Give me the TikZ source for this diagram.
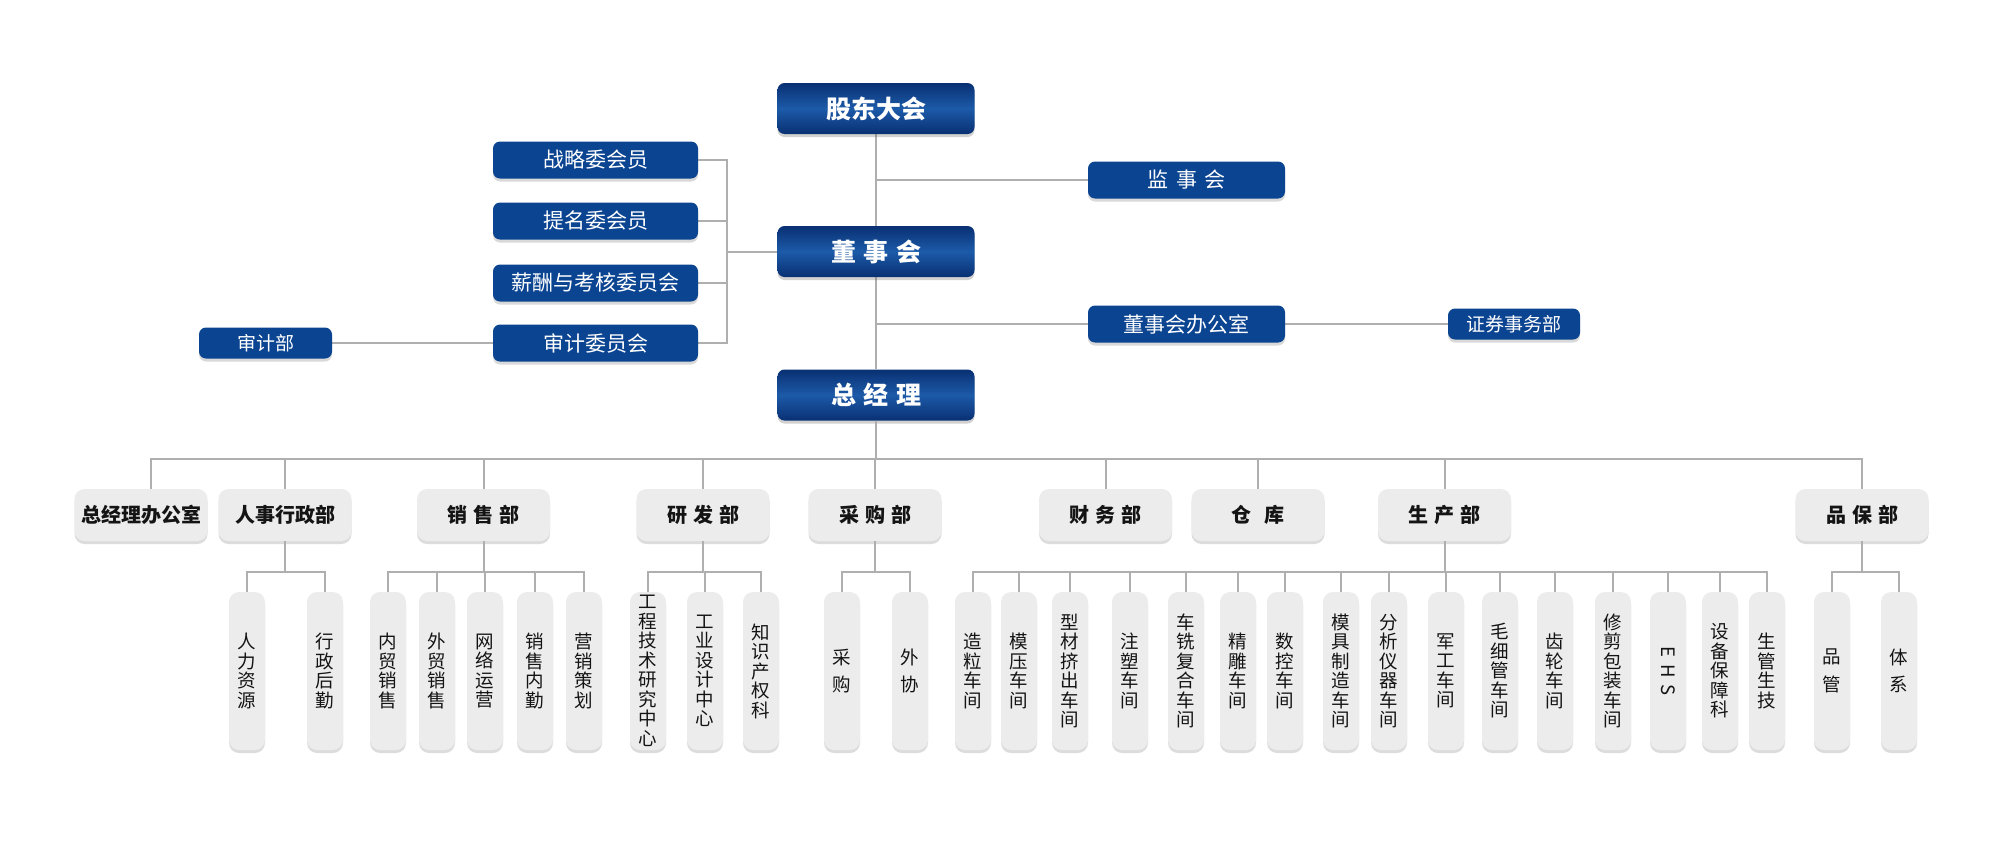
\documentclass[tikz,border=0pt]{standalone}
\usepackage{fontspec}
\newfontfamily\cjk{Noto Sans CJK SC}
\usepackage{tikz}
\usetikzlibrary{shadows, backgrounds, calc}
\usepackage{xcolor}
\definecolor{navyblue}{RGB}{11, 68, 145}
\definecolor{navydark}{RGB}{9, 48, 115}
\definecolor{navylight}{RGB}{28, 90, 168}
\definecolor{boxgray}{RGB}{236, 236, 236}
\definecolor{linegray}{RGB}{175, 175, 175}
\definecolor{inkblack}{RGB}{20, 20, 20}
\newcommand{\gapsp}{\hspace{0.3em}}
\tikzset{
    top box/.style={
        rectangle,
        rounded corners=7pt,
        minimum width=197pt,
        minimum height=51pt,
        top color=navydark,
        bottom color=navydark,
        middle color=navylight,
        text=white,
        font=\cjk\bfseries\fontsize{25}{25}\selectfont,
        drop shadow={shadow xshift=0pt, shadow yshift=-3pt, opacity=0.3, fill=black!60}
    },
    committee/.style={
        rectangle,
        rounded corners=7pt,
        fill=navyblue,
        text=white,
        minimum width=205pt,
        minimum height=37pt,
        inner sep=0pt,
        font=\cjk\fontsize{21}{21}\selectfont,
        drop shadow={shadow xshift=0pt, shadow yshift=-3pt, opacity=0.25, fill=black!60}
    },
    small box/.style={
        committee,
        minimum width=133pt,
        minimum height=31pt,
        font=\cjk\fontsize{19}{19}\selectfont
    },
    dept/.style={
        rectangle,
        rounded corners=10pt,
        fill=boxgray,
        text=inkblack,
        minimum width=133pt,
        minimum height=52pt,
        inner sep=0pt,
        font=\cjk\bfseries\fontsize{20}{20}\selectfont,
        drop shadow={shadow xshift=0pt, shadow yshift=-3pt, opacity=0.3, fill=black!45}
    },
    leaf/.style={
        rectangle,
        rounded corners=10pt,
        fill=boxgray,
        text=inkblack,
        minimum width=36pt,
        minimum height=158pt,
        inner sep=0pt,
        align=center,
        font=\cjk\fontsize{18.5}{19.5}\selectfont,
        drop shadow={shadow xshift=0pt, shadow yshift=-3pt, opacity=0.3, fill=black!45}
    }
}

\begin{document}
\begin{tikzpicture}[
    x=1pt, y=-1pt,
    link/.style={draw=linegray, line width=2pt}
]
\useasboundingbox (0,0) rectangle (2000,849);

% === GOVERNANCE ===
\node[top box] (shareholders) at (876,108.5) {股东大会};
\node[top box] (board) at (876,251.5) {董\gapsp 事\gapsp 会};
\node[top box] (gm) at (876,395) {总\gapsp 经\gapsp 理};

\node[committee, minimum width=197pt] (supervisors) at (1186.5,180) {监\hspace{0.35em}事\hspace{0.35em}会};
\node[committee, minimum width=197pt] (board_office) at (1186.5,324) {董事会办公室};
\node[small box, minimum width=132pt] (securities) at (1514,324) {证券事务部};

% Committees
\node[committee] (strategy) at (595.5,160) {战略委会员};
\node[committee] (nomination) at (595.5,221) {提名委会员};
\node[committee] (salary) at (595.5,283) {薪酬与考核委员会};
\node[committee] (audit) at (595.5,343) {审计委员会};
\node[small box] (audit_dept) at (265.5,343) {审计部};

\begin{scope}[on background layer]
\draw[link] (shareholders) -- (gm);
\draw[link] (supervisors) -- (supervisors -| shareholders);
\draw[link] (board_office) -- (board_office -| shareholders);
\draw[link] (board_office) -- (securities);
\draw[link] (audit_dept) -- (audit);
\foreach \c in {strategy, nomination, salary, audit}
    \draw[link] (\c.east) -- ++(29,0) |- (board.west);
\end{scope}

% === DEPARTMENTS ===
\node[dept] (gm_office) at (141,515) {总经理办公室};
\node[dept] (hr) at (285,515) {人事行政部};
\node[dept] (sales) at (483.5,515) {销\gapsp 售\gapsp 部};
\node[dept] (rnd) at (703,515) {研\gapsp 发\gapsp 部};
\node[dept] (purchase) at (875,515) {采\gapsp 购\gapsp 部};
\node[dept] (finance) at (1105.5,515) {财\gapsp 务\gapsp 部};
\node[dept] (store) at (1258,515) {仓\hspace{0.65em}库};
\node[dept] (production) at (1444.5,515) {生\gapsp 产\gapsp 部};
\node[dept] (qa) at (1862,515) {品\gapsp 保\gapsp 部};

\draw[link] (gm.south) -- ++(0,38) -| ([xshift=10pt]gm_office.north);
\foreach \d in {hr, sales, rnd, purchase, finance, store, production, qa}
    \draw[link] (gm.south) -- ++(0,38) -| (\d.north);

% === SECTIONS ===
% HR
\foreach \x/\t [count=\i] in {247/{人\\力\\资\\源}, 325/{行\\政\\后\\勤}} {
    \node[leaf] (hr\i) at (\x,671) {\t};
    \draw[link] (hr.south) -- ++(0,31) -| (hr\i.north);
}

% Sales
\foreach \x/\t [count=\i] in {388/{内\\贸\\销\\售}, 437/{外\\贸\\销\\售},
        485/{网\\络\\运\\营}, 535/{销\\售\\内\\勤}, 584/{营\\销\\策\\划}} {
    \node[leaf] (sales\i) at (\x,671) {\t};
    \draw[link] (sales.south) -- ++(0,31) -| (sales\i.north);
}

% R&D
\foreach \x/\t [count=\i] in {648/{工\\程\\技\\术\\研\\究\\中\\心},
        705/{工\\业\\设\\计\\中\\心}, 761/{知\\识\\产\\权\\科}} {
    \node[leaf] (rnd\i) at (\x,671) {\t};
    \draw[link] (rnd.south) -- ++(0,31) -| (rnd\i.north);
}

% Purchase
\foreach \x/\t [count=\i] in {842/{采\\[8pt]购}, 910/{外\\[8pt]协}} {
    \node[leaf] (purchase\i) at (\x,671) {\t};
    \draw[link] (purchase.south) -- ++(0,31) -| (purchase\i.north);
}

% Production
\foreach \x/\t [count=\i] in {973/{造\\粒\\车\\间}, 1019/{模\\压\\车\\间},
        1070/{型\\材\\挤\\出\\车\\间}, 1130/{注\\塑\\车\\间},
        1186/{车\\铣\\复\\合\\车\\间}, 1238/{精\\雕\\车\\间},
        1285/{数\\控\\车\\间}, 1341/{模\\具\\制\\造\\车\\间},
        1389/{分\\析\\仪\\器\\车\\间}, 1446/{军\\工\\车\\间},
        1500/{毛\\细\\管\\车\\间}, 1555/{齿\\轮\\车\\间},
        1613/{修\\剪\\包\\装\\车\\间},
        1668/{\rotatebox[origin=c]{-90}{E\hspace{7pt}H\hspace{7pt}S}},
        1720/{设\\备\\保\\障\\科}, 1767/{生\\管\\生\\技}} {
    \node[leaf] (production\i) at (\x,671) {\t};
    \draw[link] (production.south) -- ++(0,31) -| (production\i.north);
}

% QA
\foreach \x/\t [count=\i] in {1832/{品\\[8pt]管}, 1899/{体\\[8pt]系}} {
    \node[leaf] (qa\i) at (\x,671) {\t};
    \draw[link] (qa.south) -- ++(0,31) -| (qa\i.north);
}

\end{tikzpicture}
\end{document}
